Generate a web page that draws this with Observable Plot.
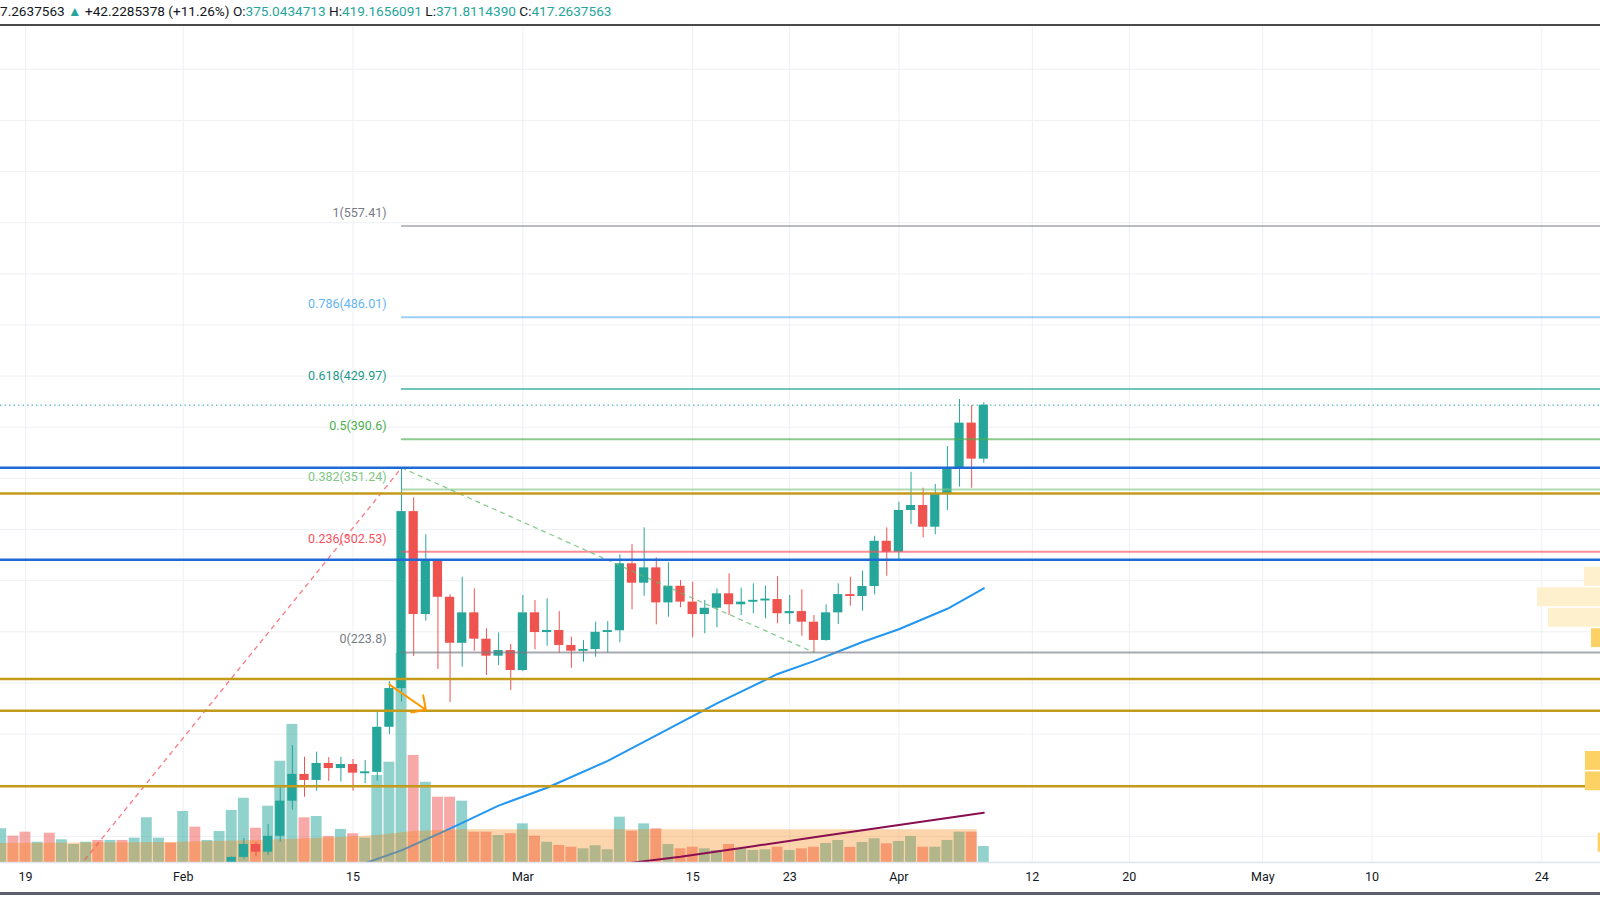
<!DOCTYPE html>
<html><head><meta charset="utf-8">
<script src="https://cdn.jsdelivr.net/npm/d3@7"></script>
<script src="https://cdn.jsdelivr.net/npm/@observablehq/plot@0.6"></script>
<style>
body{margin:0;background:#fff;font-family:Roboto,"Liberation Sans",sans-serif;}
#wrap{position:relative;width:1600px;height:900px;overflow:hidden;background:#fff;}
#legend{position:absolute;left:0;top:0;width:1600px;height:24px;line-height:23px;font-size:13.6px;color:#131722;white-space:nowrap;border-bottom:2px solid #4a4a4a;overflow:hidden;}
#legend .in{position:absolute;left:0;top:0;}
#legend .up{color:#26a69a}
#chart{position:absolute;left:0;top:26px;}
#bottomline{position:absolute;left:0;top:892px;width:1600px;height:3px;background:#5d606b;}
</style></head><body>
<div id="wrap">
<div id="legend"><div class="in"><span>7.2637563</span> <span class="up">▲</span> <span>+42.2285378 (+11.26%)</span> <span>O:</span><span class="up">375.0434713</span> <span>H:</span><span class="up">419.1656091</span> <span>L:</span><span class="up">371.8114390</span> <span>C:</span><span class="up">417.2637563</span></div></div>
<div id="chart"></div>
<div id="bottomline"></div>
</div>
<script>
// ---------- data (daily candles from 2021-01-17 to 2021-04-08) ----------
const firstDay = "2021-01-17";
const opens = [41.0,42.5,41.8,41.0,41.6,37.5,40.5,41.0,43.0,41.8,42.6,39.6,43.2,45.8,47.0,
  45.2,49.8,49.0,52.0,54.8,63.5,73.6,67.6,80.0,107.5,128.4,123.7,137.0,133.0,136.2,129.4,130.0,165.3,195.6,334.0,253.5,296.3,267.0,231.0,254.8,234.2,220.9,225.3,
  209.7,254.8,239.4,241.0,229.3,224.8,226.1,239.6,240.8,293.2,278.0,290.0,262.6,275.6,263.2,253.5,258.4,269.7,261.1,263.2,264.5,265.2,254.1,255.8,247.5,233.2,254.8,269.1,267.6,275.4,310.8,
  302.2,334.9,338.8,321.8,347.4,368.0,403.2,375.0434713];
const highs = [43.5,43.0,43.2,42.5,42.0,41.0,41.5,43.5,44.5,43.0,43.0,43.5,46.5,47.5,47.2,
  50.5,51.5,52.5,55.5,64.0,78.3,75.4,89.3,118.4,151.0,141.9,145.8,141.6,141.9,140.1,139.3,177.1,201.0,368.3,344.8,315.9,296.5,269.0,282.7,273.6,242.3,239.1,230.1,
  268.4,264.5,265.8,255.8,235.8,233.1,247.5,248.0,300.2,308.3,321.3,297.8,294.0,280.1,278.8,264.5,273.6,285.3,274.1,277.5,275.6,283.2,268.4,272.8,252.7,261.1,277.5,282.7,287.4,314.7,321.3,
  341.4,364.8,352.3,355.2,384.9,421.7,417.0,419.1656091];
const lows = [40.2,40.8,40.5,38.5,36.0,36.5,39.8,40.6,41.0,40.2,38.8,39.0,42.0,45.0,44.5,
  44.8,48.0,48.5,50.5,54.0,62.0,64.0,65.0,75.4,100.5,110.6,115.3,122.9,122.4,115.3,121.3,123.1,159.6,185.0,220.7,248.3,210.5,184.7,212.3,224.8,205.8,213.6,194.1,
  208.9,225.9,228.7,223.5,211.5,216.2,220.1,223.5,231.4,257.2,267.8,245.4,251.4,258.8,235.3,238.4,243.1,252.7,252.7,254.1,250.1,246.2,245.7,236.5,223.8,232.6,245.7,260.0,256.1,268.9,283.5,
  296.5,323.9,313.5,315.9,334.9,353.1,352.3,371.8114390];
const closes = [42.5,41.8,41.0,41.6,37.5,40.5,41.0,43.0,41.8,42.6,39.6,43.2,45.8,47.0,45.2,
  49.8,49.0,52.0,54.8,63.5,73.6,67.6,80.0,107.5,128.4,123.7,137.0,133.0,136.2,129.4,130.0,165.3,195.6,334.0,253.5,296.3,267.0,231.0,254.8,234.2,220.9,225.3,209.7,
  254.8,239.4,241.0,229.3,224.8,226.1,239.6,240.8,293.2,278.0,290.0,262.6,275.6,263.2,253.5,258.4,269.7,261.1,263.2,264.5,265.2,254.1,255.8,247.5,233.2,254.8,269.1,267.6,275.4,310.8,302.2,
  334.9,338.8,321.8,347.4,368.0,403.2,375.0434713,417.2637563];
const volumes = [323,252,290,194,280,217,172,194,211,211,211,233,428,233,185,
  488,338,211,297,498,615,328,539,969,1321,428,440,249,316,275,233,833,960,2000,1024,768,625,625,587,290,290,258,275,
  370,252,194,163,146,131,160,122,434,300,370,323,172,131,146,131,115,172,131,115,122,146,115,131,146,182,211,144,191,227,179,
  201,249,146,146,211,290,290,153];

// volume moving-average band (peach area)
const bandDates = ["2021-01-16","2021-01-31","2021-02-07","2021-02-14","2021-02-17","2021-02-20","2021-02-24","2021-04-07"];
const bandValues = [182,191,211,239,258,297,313,313];

// moving averages drawn on price
const ma50Dates = ["2021-02-14","2021-02-16","2021-02-19","2021-02-23","2021-02-27","2021-03-03","2021-03-08","2021-03-12","2021-03-17","2021-03-22","2021-03-25","2021-03-29","2021-04-01","2021-04-05","2021-04-08"];
const ma50Values = [52,59,69,86,104,118,139,159,184,207,217,232,242,258,274];
const ma200Dates = ["2021-03-08","2021-03-14","2021-03-20","2021-03-26","2021-04-01","2021-04-08"];
const ma200Values = [57,64,72.3,80.6,88.8,98.4];

// trend-based fib extension
const fibRatios = ["0","0.236","0.382","0.5","0.618","0.786","1"];
const fibValues = [223.8,302.53,351.24,390.6,429.97,486.01,557.41];
const fibLineColors = ["#787b86","#f7525f","#81c784","#4caf50","#26a69a","#64b5f6","#9598a1"];
const fibTextColors = ["#787b86","#f7525f","#81c784","#4caf50","#1f9a88","#64b5f6","#787b86"];
const fibStart = "2021-02-19";
const trendDates = ["2021-01-22","2021-02-19","2021-03-25"];
const trendPrices = [39.6,368.3,223.8];

// user drawn horizontal levels
const blueLevels = [368.3,296.4];
const goldLevels = [348.2,203.0,178.3,119.2];
const lastPrice = 417.2637563;

// arrow
const arrowFrom = ["2021-02-18",198.7];
const arrowTo = ["2021-02-21",179.0];

// visible range volume profile at right edge
const vpLow = [275,259,243,227,131,115,67];
const vpHigh = [291,275,259,243,147,131,83];
const vpVolume = [16,63,52,9,15,15,2.3];
const vpType = ["va","va","va","poc","poc","poc","poc"];

// axis ticks
const tickDates = ["2021-01-19","2021-02-01","2021-02-15","2021-03-01","2021-03-15","2021-03-23","2021-04-01","2021-04-12","2021-04-20","2021-05-01","2021-05-10","2021-05-24"];
const tickLabels = ["19","Feb","15","Mar","15","23","Apr","12","20","May","10","24"];
const priceGrid = [80,120,160,200,240,280,320,360,400,440,480,520,560,600,640,680];

// ---------- build ----------
const parse = d3.utcParse("%Y-%m-%d");
const DAY = 86400000;
const xStart = new Date(Date.UTC(2021,0,16,22,30));
const xEnd = new Date(Date.UTC(2021,4,28,20,10));
const yMin = 59.52, yMax = 713.47;
const VOL_MAX = 8000;
const vy = d3.scaleLinear([0, VOL_MAX], [yMin, yMax]);
const pxPerDay = 1600 / ((xEnd - xStart) / DAY);

const d0 = parse(firstDay);
const candles = opens.map((o, i) => {
  const c = closes[i];
  let top = Math.max(o, c), bot = Math.min(o, c);
  if (top - bot < 1.5) { const m = (top + bot) / 2; top = m + 0.75; bot = m - 0.75; }
  return {date: new Date(+d0 + i * DAY), o, h: highs[i], l: lows[i], c, v: volumes[i], up: c >= o, top, bot};
});
const band = bandDates.map((d, i) => ({date: parse(d), v: bandValues[i]}));
band.push({date: new Date(+parse("2021-04-07") + 0.45 * DAY), v: bandValues[bandValues.length - 1]});
const ma50 = ma50Dates.map((d, i) => ({date: parse(d), v: ma50Values[i]}));
const ma200 = ma200Dates.map((d, i) => ({date: parse(d), v: ma200Values[i]}));
const fib = fibValues.map((v, i) => ({v, ratio: fibRatios[i], line: fibLineColors[i], text: fibTextColors[i], label: `${fibRatios[i]}(${v})`}));
const trend = trendDates.map((d, i) => ({date: parse(d), p: trendPrices[i]}));
const vp = vpLow.map((lo, i) => ({lo, hi: vpHigh[i], x1: new Date(+xEnd - vpVolume[i] / pxPerDay * DAY), type: vpType[i]}));
const ticks = tickDates.map((d, i) => ({date: parse(d), label: tickLabels[i]}));

const UP = "#26a69a", DOWN = "#ef5350";
const off = (d, k) => new Date(+d + k * DAY);

const chart = Plot.plot({
  width: 1600, height: 874,
  marginTop: 0, marginBottom: 38, marginLeft: 0, marginRight: 0,
  style: {fontFamily: "Roboto, 'Liberation Sans', sans-serif", background: "transparent", overflow: "visible"},
  x: {type: "utc", domain: [xStart, xEnd], axis: null},
  y: {domain: [yMin, yMax], axis: null},
  marks: [
    Plot.ruleY(priceGrid, {stroke: "#eef0f5", strokeWidth: 1, clip: true}),
    Plot.ruleX(ticks, {x: "date", stroke: "#eef0f5", strokeWidth: 1, clip: true}),
    // volume
    Plot.rect(candles, {x1: d => off(d.date, -0.45), x2: d => off(d.date, 0.45), y1: () => vy(0), y2: d => vy(d.v),
      fill: d => d.up ? "rgba(38,166,154,0.5)" : "rgba(239,83,80,0.5)", clip: true}),
    // 50 MA (under band)
    Plot.line(ma50, {x: "date", y: "v", stroke: "#2196f3", strokeWidth: 2, clip: true}),
    // volume MA band
    Plot.areaY(band, {x: "date", y1: () => vy(0), y2: d => vy(d.v), fill: "#f57c00", fillOpacity: 0.32, clip: true}),
    // 200 MA
    Plot.line(ma200, {x: "date", y: "v", stroke: "#880e4f", strokeWidth: 2, clip: true}),
    // candles
    Plot.ruleX(candles, {x: "date", y1: "l", y2: "h", stroke: d => d.up ? UP : DOWN, strokeWidth: 1, clip: true}),
    Plot.rect(candles, {x1: d => off(d.date, -0.38), x2: d => off(d.date, 0.38), y1: "bot", y2: "top",
      fill: d => d.up ? UP : DOWN, clip: true}),
    // fib levels
    Plot.ruleY(fib, {y: "v", x1: () => parse(fibStart), x2: () => xEnd, stroke: "line", strokeWidth: 2, strokeOpacity: 0.65, clip: true}),
    Plot.text(fib, {x: () => parse(fibStart), y: "v", text: "label", fill: "text", textAnchor: "end", dx: -15, dy: -13, fontSize: 12.5}),
    // fib trend lines
    Plot.link([0], {x1: () => trend[0].date, y1: () => trend[0].p, x2: () => trend[1].date, y2: () => trend[1].p,
      stroke: "#f7525f", strokeOpacity: 0.75, strokeWidth: 1.3, strokeDasharray: "5,4", clip: true}),
    Plot.link([0], {x1: () => trend[1].date, y1: () => trend[1].p, x2: () => trend[2].date, y2: () => trend[2].p,
      stroke: "#66bb6a", strokeOpacity: 0.75, strokeWidth: 1.3, strokeDasharray: "5,4", clip: true}),
    // horizontal drawings
    Plot.ruleY(goldLevels, {stroke: "#c49a1a", strokeWidth: 2.5, clip: true}),
    Plot.ruleY(blueLevels, {stroke: "#1e6ad6", strokeWidth: 2.5, clip: true}),
    Plot.ruleY([lastPrice], {stroke: "#26a69a", strokeWidth: 1, strokeDasharray: "1.5,3", clip: true}),
    // arrow
    Plot.arrow([0], {x1: () => parse(arrowFrom[0]), y1: () => arrowFrom[1], x2: () => parse(arrowTo[0]), y2: () => arrowTo[1],
      stroke: "#ff9800", strokeWidth: 2, headLength: 16, headAngle: 90, clip: true}),
    // volume profile
    Plot.rect(vp, {x1: "x1", x2: () => xEnd, y1: "lo", y2: "hi", fill: d => d.type === "va" ? "#fff0cd" : "#fcd264",
      insetTop: 0.8, insetBottom: 0.8, clip: true}),
    // frame bottom + axis labels
    Plot.ruleY([yMin], {stroke: "#e0e3eb", strokeWidth: 1.5}),
    Plot.text(ticks, {x: "date", text: "label", frameAnchor: "bottom", dy: 14, lineAnchor: "middle", fontSize: 12.5, fill: "#131722"})
  ]
});
document.getElementById("chart").appendChild(chart);
</script>
</body></html>
